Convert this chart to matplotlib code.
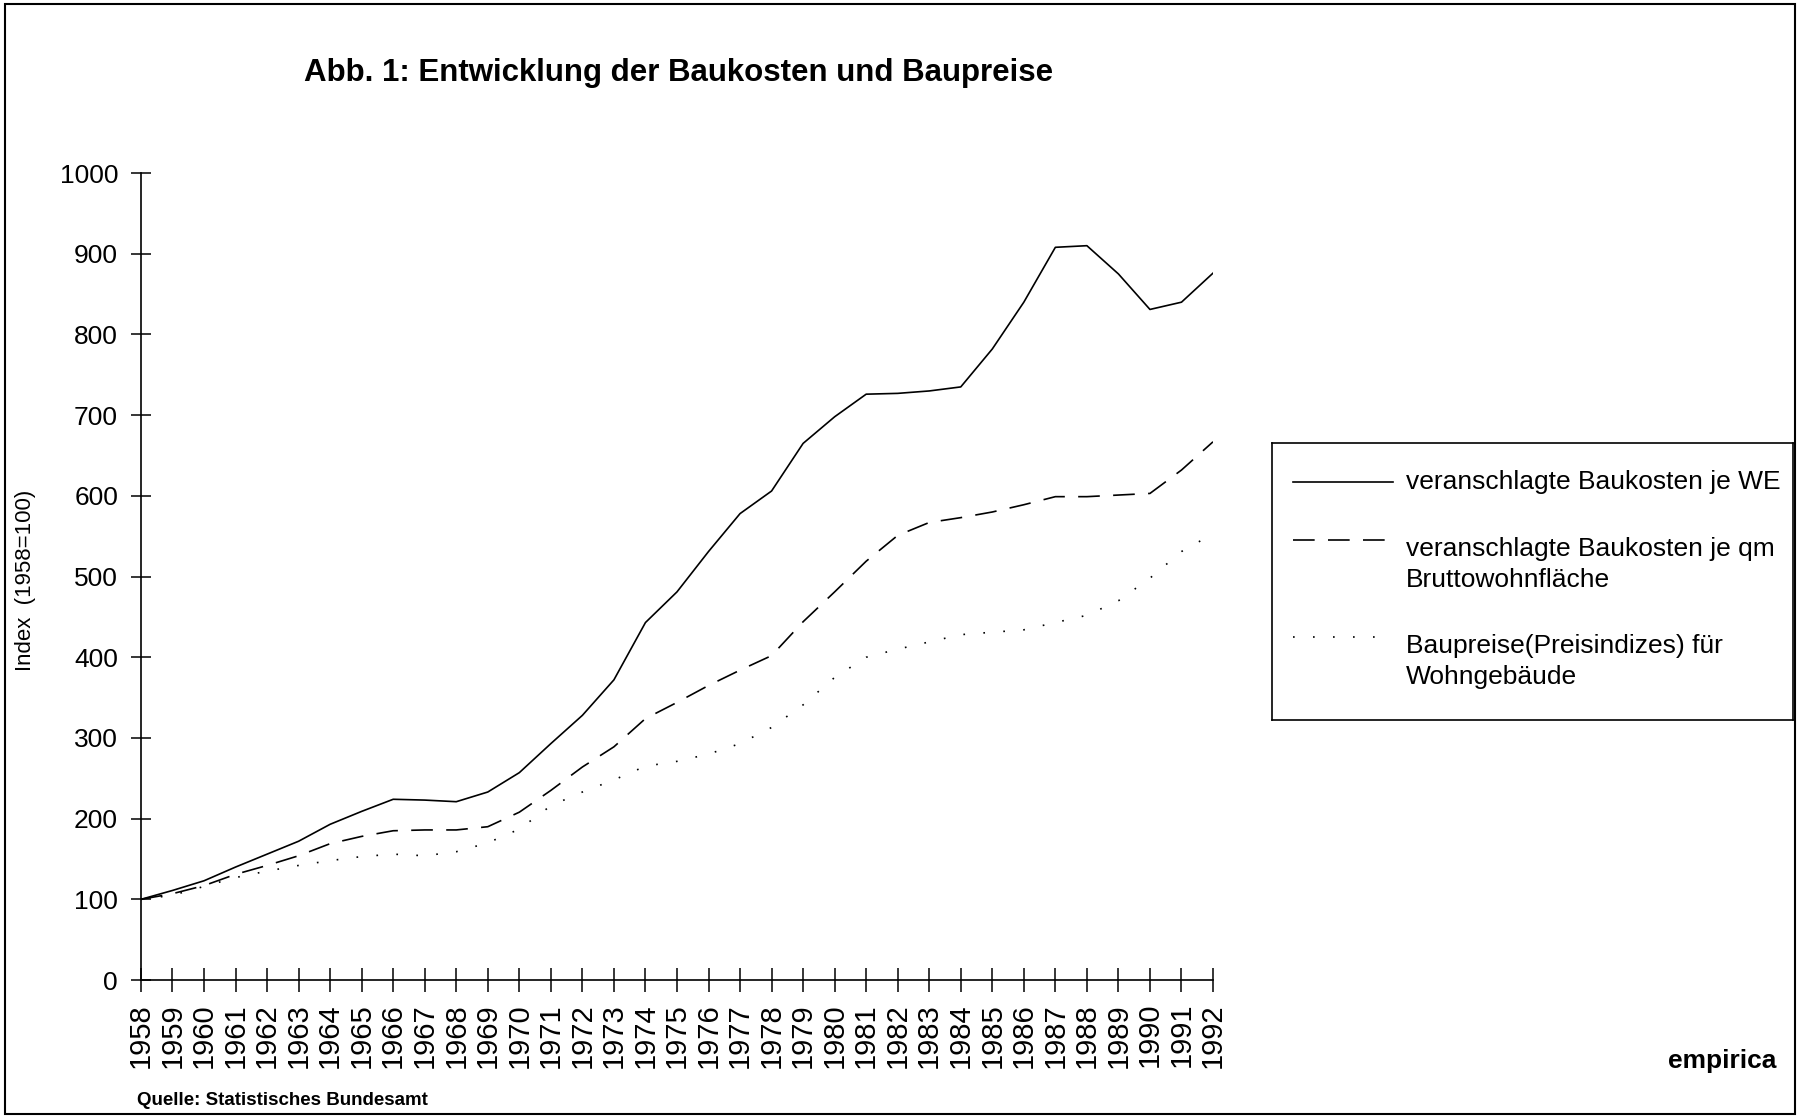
import matplotlib.pyplot as plt
from matplotlib.patches import Rectangle

plt.rcParams['font.family'] = ['Liberation Sans', 'DejaVu Sans']

years = list(range(1958, 1993))

# Index (1958=100)
kosten_we = [100, 111, 123, 140, 156, 172, 193, 209, 224, 223,
             221, 233, 257, 293, 328, 372, 443, 481, 531, 578,
             606, 665, 698, 726, 727, 730, 735, 782, 840, 908,
             910, 875, 831, 840, 876]
kosten_qm = [100, 107, 117, 131, 142, 154, 169, 178, 185, 186,
             186, 190, 208, 235, 264, 289, 324, 344, 365, 384,
             402, 444, 481, 519, 551, 567, 573, 580, 589, 599,
             599, 601, 603, 632, 667]
baupreise = [100, 105, 116, 127, 135, 142, 148, 153, 156, 154,
             159, 170, 187, 216, 233, 248, 265, 271, 280, 293,
             313, 341, 375, 400, 410, 419, 428, 431, 434, 443,
             452, 470, 498, 531, 553]

labels = ["veranschlagte Baukosten je WE",
          "veranschlagte Baukosten je qm\nBruttowohnfläche",
          "Baupreise(Preisindizes) für\nWohngebäude"]
styles = ["-", (0, (13, 8)), (0, (1, 11))]

fig = plt.figure(figsize=(18, 11.18), dpi=100)
ax = fig.add_axes([0.0783, 0.1234, 0.5956, 0.7218])

for vals, ls in zip([kosten_we, kosten_qm, baupreise], styles):
    ax.plot(years, vals, color="black", lw=1.2, linestyle=ls)

ax.set_xlim(1958, 1992)
ax.set_ylim(0, 1000)
ax.set_yticks(range(0, 1001, 100))
ax.set_xticks(years)
ax.set_xticklabels([str(y) for y in years], rotation=90, fontsize=21)
ax.tick_params(axis="y", labelsize=19, direction="inout", length=15, width=1.1, pad=9)
ax.tick_params(axis="x", direction="inout", length=17, width=1.1, pad=8)
for s in ["top", "right"]:
    ax.spines[s].set_visible(False)
for s in ["left", "bottom"]:
    ax.spines[s].set_linewidth(1.2)

fig.text(0.0139, 0.481, "Index  (1958=100)", fontsize=16, rotation=90,
         ha="center", va="center",
         family=["Liberation Sans Narrow", "Liberation Sans", "DejaVu Sans"])

fig.text(0.377, 0.935, "Abb. 1: Entwicklung der Baukosten und Baupreise",
         fontsize=22.5, fontweight="bold", ha="center", va="center")
fig.text(0.076, 0.016, "Quelle: Statistisches Bundesamt", fontsize=13.5,
         fontweight="bold", ha="left", va="center")
fig.text(0.987, 0.051, "empirica", fontsize=19, fontweight="bold",
         ha="right", va="center")

# legend box
lax = fig.add_axes([0.7067, 0.356, 0.2894, 0.2478])
lax.set_xlim(0, 1)
lax.set_ylim(0, 1)
lax.set_xticks([])
lax.set_yticks([])
for s in lax.spines.values():
    s.set_linewidth(1.2)
handle_y = [0.859, 0.650, 0.300]
text_y = [0.859, 0.560, 0.210]
for ls, hy, ty, lab in zip(styles, handle_y, text_y, labels):
    lax.plot([0.040, 0.232], [hy, hy], color="black", lw=1.2, linestyle=ls)
    lax.text(0.257, ty, lab, fontsize=19, ha="left", va="center", linespacing=1.38)

fig.add_artist(Rectangle((0.003, 0.004), 0.994, 0.992, transform=fig.transFigure,
                         fill=False, lw=1.5, color="black"))

fig.savefig("out.png", dpi=100)
